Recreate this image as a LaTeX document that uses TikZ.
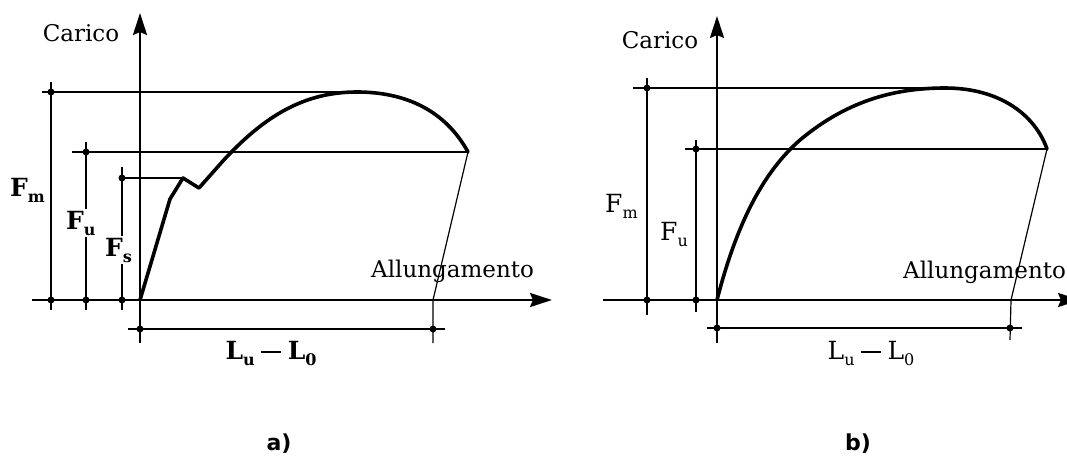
\documentclass[tikz,border=0pt]{standalone}
\usepackage{fontspec}
\setmainfont{DejaVu Serif}
\newfontfamily\capfont{DejaVu Sans}
\usetikzlibrary{arrows.meta}
\newcommand\lsub[1]{\raisebox{-6pt}{\fontsize{16}{16}\selectfont #1}}
\newcommand\ldash{\hspace{6pt}\rule[6pt]{20pt}{1.6pt}\hspace{7pt}}
\tikzset{
  axisline/.style={line width=2.5pt, -{Stealth[length=22pt,width=14pt,inset=3pt]}},
  dimline/.style={line width=1.2pt},
  curveline/.style={line width=3.6pt, line join=round, line cap=round},
  dotmark/.style={circle, fill=black, inner sep=0pt, minimum size=7pt},
  biglab/.style={font=\fontsize{23}{26}\selectfont, inner sep=1pt},
  flab/.style={font=\fontsize{25}{27}\selectfont, inner sep=1pt},
  fblab/.style={font=\fontsize{25}{27}\selectfont\bfseries, inner sep=1pt},
  wlab/.style={fblab, fill=white, inner sep=2pt},
  caplab/.style={font=\capfont\bfseries\fontsize{22}{24}\selectfont, inner sep=1pt},
}
\begin{document}
\begin{tikzpicture}[x=1pt,y=-1pt]
\useasboundingbox (0,0) rectangle (1067,466);
% ================= diagram a =================
\coordinate (Oa) at (140,300);
\coordinate (yBa) at (140,343);
\coordinate (yTa) at (140,13);
\coordinate (xLa) at (32,300);
\coordinate (xRa) at (552,300);
% Fm
\coordinate (FmLa) at (42,92);
\coordinate (FmRa) at (375,92);
\coordinate (FmTa) at (51,82);
\coordinate (FmBa) at (51,310);
\coordinate (FmDa) at (51,92);
\coordinate (FmOa) at (51,300);
% Fu
\coordinate (FuLa) at (72,152);
\coordinate (FuRa) at (468,152);
\coordinate (FuTa) at (86,142);
\coordinate (FuBa) at (86,310);
\coordinate (FuDa) at (86,152);
\coordinate (FuOa) at (86,300);
% Fs
\coordinate (FsLa) at (122,178);
\coordinate (FsRa) at (183,178);
\coordinate (FsTa) at (122,167);
\coordinate (FsBa) at (122,310);
\coordinate (FsOa) at (122,300);
% curve points
\coordinate (Ka1) at (170,199);
\coordinate (Ka2) at (183,178);
\coordinate (Ka3) at (199,188);
\coordinate (Ka4) at (222,162);
\coordinate (Pa) at (357,92);
\coordinate (Ea) at (468,152);
% elongation
\coordinate (Aa) at (433,300);
\coordinate (Ta) at (433,343);
\coordinate (DLa) at (128,329);
\coordinate (DRa) at (445,329);
\coordinate (DOa) at (140,329);
\coordinate (DEa) at (433,329);

\draw[dimline] (FmLa) -- (FmRa);
\draw[dimline] (FmTa) -- (FmBa);
\draw[dimline] (FuLa) -- (FuRa);
\draw[dimline] (FuTa) -- (FuBa);
\draw[dimline] (FsLa) -- (FsRa);
\draw[dimline] (FsTa) -- (FsBa);
\draw[dimline] (Ea) -- (Aa) -- (Ta);
\draw[dimline] (DLa) -- (DRa);
\draw[axisline] (yBa) -- (yTa);
\draw[axisline] (xLa) -- (xRa);
\draw[curveline] (Oa) -- (Ka1) -- (Ka2) -- (Ka3) -- (Ka4)
  .. controls (265,115) and (305,92) .. (Pa)
  .. controls (405,92) and (445,110) .. (Ea);
\foreach \p in {FmDa,FmOa,FuDa,FuOa,FsLa,FsOa,DOa,DEa}
  \node[dotmark] at (\p) {};
\node[biglab] (caricoA) at (81,33) {Carico};
\node[biglab, anchor=base west] (allA) at (370,277) {Allungamento};
\node[fblab, anchor=base west] (FmA) at (9,196) {F\lsub{m}};
\node[wlab, anchor=base west] (FuA) at (64,229) {F\lsub{u}};
\node[wlab, anchor=base west] (FsA) at (103,256) {F\lsub{s}};
\node[fblab, anchor=base] (LA) at (271,359) {L\lsub{u}\ldash L\lsub{0}};
\node[caplab] (capA) at (279,444) {a)};
% ================= diagram b =================
\coordinate (Ob) at (717,300);
\coordinate (yBb) at (717,343);
\coordinate (yTb) at (717,16);
\coordinate (xLb) at (603,300);
\coordinate (xRb) at (1080,300);
\coordinate (FmLb) at (633,88);
\coordinate (FmRb) at (950,88);
\coordinate (FmTb) at (647,78);
\coordinate (FmBb) at (647,315);
\coordinate (FmDb) at (647,88);
\coordinate (FmOb) at (647,300);
\coordinate (FuLb) at (685,149);
\coordinate (FuRb) at (1047,149);
\coordinate (FuTb) at (696,140);
\coordinate (FuBb) at (696,312);
\coordinate (FuDb) at (696,149);
\coordinate (FuOb) at (696,300);
\coordinate (Mb) at (800,140);
\coordinate (Pb) at (945,88);
\coordinate (Eb) at (1047,149);
\coordinate (Ab) at (1011,300);
\coordinate (Tb) at (1010,340);
\coordinate (DLb) at (707,328);
\coordinate (DRb) at (1022,328);
\coordinate (DOb) at (717,328);
\coordinate (DEb) at (1010,328);

\draw[dimline] (FmLb) -- (FmRb);
\draw[dimline] (FmTb) -- (FmBb);
\draw[dimline] (FuLb) -- (FuRb);
\draw[dimline] (FuTb) -- (FuBb);
\draw[dimline] (Eb) -- (Ab) -- (Tb);
\draw[dimline] (DLb) -- (DRb);
\draw[axisline] (yBb) -- (yTb);
\draw[axisline] (xLb) -- (xRb);
\draw[curveline] (Ob) .. controls (735,230) and (760,175) .. (Mb)
  .. controls (850,98) and (900,88) .. (Pb)
  .. controls (1000,88) and (1035,115) .. (Eb);
\foreach \p in {FmDb,FmOb,FuDb,FuOb,DOb,DEb}
  \node[dotmark] at (\p) {};
\node[biglab] (caricoB) at (660,40) {Carico};
\node[biglab, anchor=base west] (allB) at (902,278) {Allungamento};
\node[flab, anchor=base west] (FmB) at (604,212) {F\lsub{m}};
\node[flab, anchor=base west] (FuB) at (659,240) {F\lsub{u}};
\node[flab, anchor=base] (LB) at (871,359) {L\lsub{u}\ldash L\lsub{0}};
\node[caplab] (capB) at (858,444) {b)};
\end{tikzpicture}
\end{document}
